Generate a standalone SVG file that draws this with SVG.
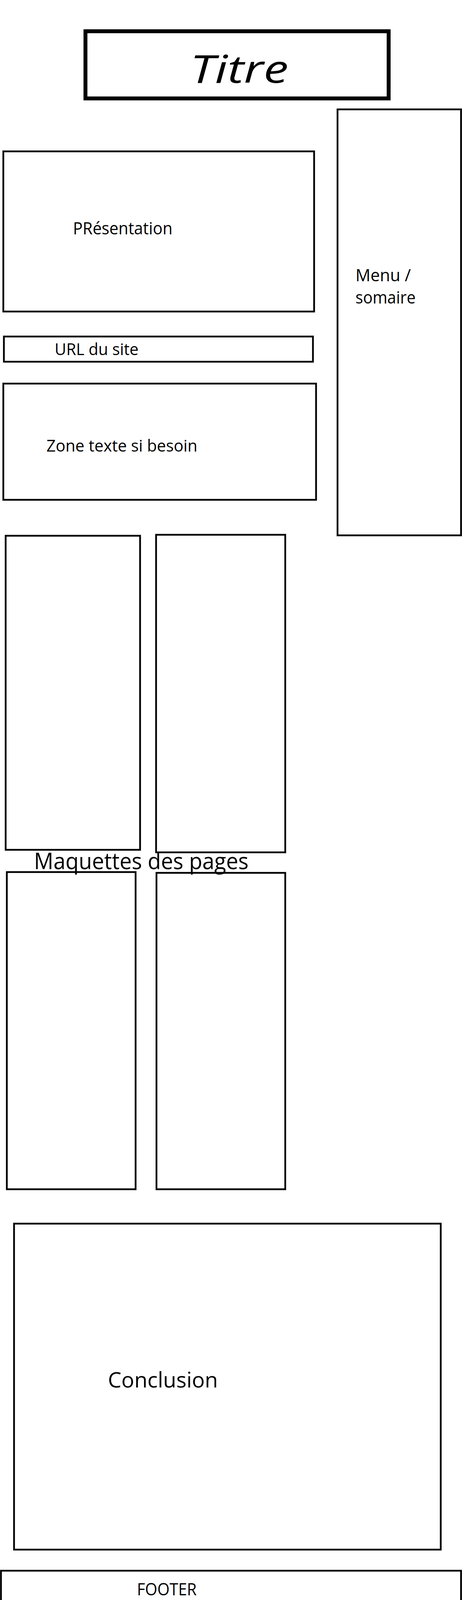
<svg xmlns="http://www.w3.org/2000/svg" width="1184" height="4352" viewBox="0 0 1184 4352">
<style>
.box{fill:#fff;stroke:#000;stroke-width:4.5}
.lbl{font-family:"Open Sans","Noto Sans","DejaVu Sans",sans-serif;fill:#000}
</style>
<rect width="1184" height="4352" fill="#fff"/>
<g id="titre">
<rect x="219" y="80" width="777" height="172" fill="#fff" stroke="#000" stroke-width="10"/>
<text class="lbl" x="487" y="212" font-size="98" textLength="252" lengthAdjust="spacingAndGlyphs" font-style="italic">Titre</text>
</g>
<g id="presentation">
<rect class="box" x="8.5" y="387.5" width="796.5" height="410"/>
<text class="lbl" x="187" y="600" font-size="44" textLength="255" lengthAdjust="spacingAndGlyphs">PRésentation</text>
</g>
<g id="menu">
<rect class="box" x="865" y="280" width="316.5" height="1090.5"/>
<text class="lbl" x="911" y="719.5" font-size="43" textLength="142" lengthAdjust="spacingAndGlyphs">Menu /</text>
<text class="lbl" x="911" y="777" font-size="43" textLength="154" lengthAdjust="spacingAndGlyphs">somaire</text>
</g>
<g id="url">
<rect class="box" x="10" y="861.5" width="792" height="64.5"/>
<text class="lbl" x="140" y="909" font-size="42" textLength="215" lengthAdjust="spacingAndGlyphs">URL du site</text>
</g>
<g id="zone-texte">
<rect class="box" x="8.5" y="982" width="801.5" height="297.5"/>
<text class="lbl" x="119" y="1156" font-size="42" textLength="387" lengthAdjust="spacingAndGlyphs">Zone texte si besoin</text>
</g>
<g id="maquette-1"><rect class="box" x="14.5" y="1371.5" width="344.5" height="804"/></g>
<g id="maquette-2"><rect class="box" x="400" y="1369" width="331" height="813"/></g>
<g id="maquette-3"><rect class="box" x="17.5" y="2232.5" width="330" height="812"/></g>
<g id="maquette-4"><rect class="box" x="401" y="2234.5" width="330" height="810"/></g>
<g id="maquettes-label">
<text class="lbl" x="87" y="2225" font-size="58" textLength="550" lengthAdjust="spacingAndGlyphs">Maquettes des pages</text>
</g>
<g id="conclusion">
<rect class="box" x="36" y="3132.5" width="1093.5" height="834.5"/>
<text class="lbl" x="276.5" y="3552" font-size="55" textLength="282" lengthAdjust="spacingAndGlyphs">Conclusion</text>
</g>
<g id="footer">
<rect class="box" x="2.5" y="4021" width="1179" height="219"/>
<text class="lbl" x="351" y="4084" font-size="43" textLength="153" lengthAdjust="spacingAndGlyphs">FOOTER</text>
</g>
<g id="connectors"></g>
</svg>
